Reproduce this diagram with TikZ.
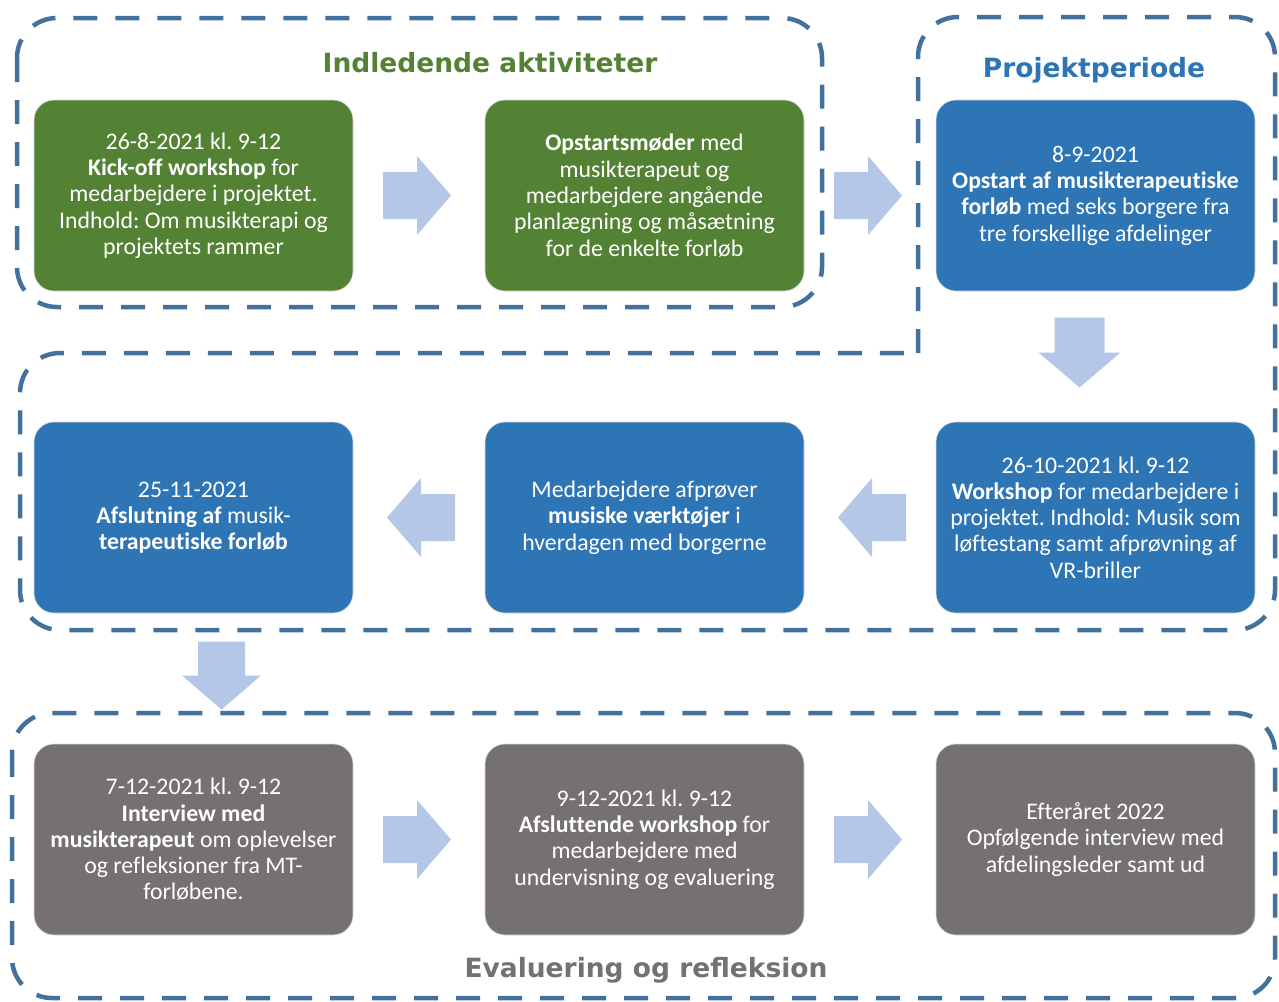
\documentclass[tikz,border=0pt]{standalone}
\usepackage{fontspec}
\setmainfont{Carlito}[Ligatures=NoCommon]
\newfontfamily\ttlfont{DejaVu Sans}
\usetikzlibrary{calc}
\definecolor{cgreen}{HTML}{548235}
\definecolor{cblue}{HTML}{2E75B6}
\definecolor{cgray}{HTML}{767171}
\definecolor{carrow}{HTML}{B4C7E7}
\definecolor{cframe}{HTML}{41719C}
\tikzset{
  frame/.style={draw=cframe, line width=4.5pt, dash pattern=on 24pt off 18pt, rounded corners=40pt},
  box/.style={rounded corners=20pt, minimum width=319pt, minimum height=191pt, text=white, align=center,
    font=\fontsize{23.8}{26.3}\selectfont, inner sep=0pt, draw=white!85!black, line width=0.6pt},
  gbox/.style={box, fill=cgreen},
  bbox/.style={box, fill=cblue},
  ybox/.style={box, fill=cgray},
  blockarrow/.pic={\fill[carrow] (-34,-23.5) -- (0,-23.5) -- (0,-39.5) -- (34,0) -- (0,39.5) -- (0,23.5) -- (-34,23.5) -- cycle;},
  bigarrow/.pic={\fill[carrow] (-35,-25) -- (0,-25) -- (0,-41) -- (35,0) -- (0,41) -- (0,25) -- (-35,25) -- cycle;},
  ttl/.style={font=\ttlfont\bfseries\fontsize{26.5}{30}\selectfont, anchor=base}
}
\begin{document}
\frenchspacing
\begin{tikzpicture}[x=1pt,y=-1pt]
\useasboundingbox (0,0) rectangle (1279,1001);
% frames
\draw[frame] (17,18) rectangle (822,307);
\draw[frame] (918,353) -- (918,17) -- (1275,17) -- (1275,630) -- (20,630) -- (20,353) -- (918,353);
\draw[frame] (12,713) rectangle (1275,998);
% titles
\node[ttl, text=cgreen] (t1) at (490,72) {Indledende aktiviteter};
\node[ttl, text=cblue] (t2) at (1094,77) {Projektperiode};
\node[ttl, text=cgray] (t3) at (646,977) {Evaluering og refleksion};
% row 1
\node[gbox] (g1) at (193.5,195.5) {26-8-2021 kl. 9-12\\ \textbf{Kick-off workshop} for\\ medarbejdere i projektet.\\ Indhold: Om musikterapi og\\ projektets rammer};
\node[gbox] (g2) at (644.5,195.5) {\textbf{Opstartsmøder} med\\ musikterapeut og\\ medarbejdere angående\\ planlægning og måsætning\\ for de enkelte forløb};
\node[bbox] (b1) at (1095.5,195.5) {8-9-2021\\ \textbf{Opstart af musikterapeutiske}\\ \textbf{forløb} med seks borgere fra\\ tre forskellige afdelinger};
% row 2
\node[bbox] (m3) at (1095.5,517.5) {26-10-2021 kl. 9-12\\ \textbf{Workshop} for medarbejdere i\\ projektet. Indhold: Musik som\\ løftestang samt afprøvning af\\ VR-briller};
\node[bbox] (m2) at (644.5,517.5) {Medarbejdere afprøver\\ \textbf{musiske værktøjer} i\\ hverdagen med borgerne};
\node[bbox] (m1) at (193.5,517.5) {25-11-2021\\ \textbf{Afslutning af} musik-\\ \textbf{terapeutiske forløb}};
% row 3
\node[ybox] (e1) at (193.5,839.5) {7-12-2021 kl. 9-12\\ \textbf{Interview med}\\ \textbf{musikterapeut} om oplevelser\\ og refleksioner fra MT-\\ forløbene.};
\node[ybox] (e2) at (644.5,839.5) {9-12-2021 kl. 9-12\\ \textbf{Afsluttende workshop} for\\ medarbejdere med\\ undervisning og evaluering};
\node[ybox] (e3) at (1095.5,839.5) {Efteråret 2022\\ Opfølgende interview med\\ afdelingsleder samt ud};
% arrow positions
\coordinate (a1) at ($(g1.east)!0.5!(g2.west)+(-2,0)$);
\coordinate (a2) at ($(g2.east)!0.5!(b1.west)+(-2,0)$);
\coordinate (a3) at ($(b1.south)!0.5!(m3.north)+(-16,-4)$);
\coordinate (a4) at ($(m3.west)!0.5!(m2.east)+(2,0)$);
\coordinate (a5) at ($(m2.west)!0.5!(m1.east)+(2,0)$);
\coordinate (a6) at ($(m1.south)!0.5!(e1.north)+(28,-3)$);
\coordinate (a7) at ($(e1.east)!0.5!(e2.west)+(-2,0)$);
\coordinate (a8) at ($(e2.east)!0.5!(e3.west)+(-2,0)$);
% arrows
\pic at (a1) {blockarrow};
\pic at (a2) {blockarrow};
\pic[rotate=-90] at (a3) {bigarrow};
\pic[rotate=180] at (a4) {blockarrow};
\pic[rotate=180] at (a5) {blockarrow};
\pic[rotate=-90] at (a6) {blockarrow};
\pic at (a7) {blockarrow};
\pic at (a8) {blockarrow};
\end{tikzpicture}
\end{document}
